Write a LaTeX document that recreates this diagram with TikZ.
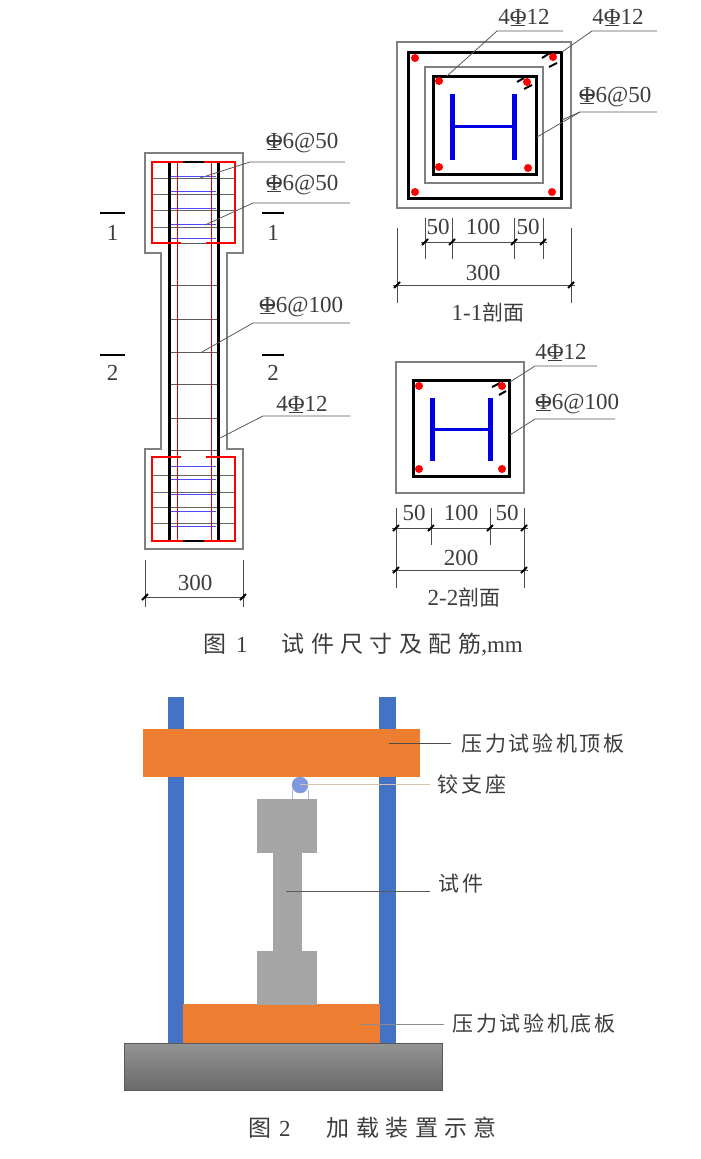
\documentclass[tikz,border=0pt]{standalone}
\usepackage{fontspec}
\setmainfont{Liberation Serif}
\newfontfamily\cjk{Noto Sans CJK SC}
\newfontfamily\cjklabel[LetterSpace=12]{Noto Sans CJK SC}
\newfontfamily\cjkcap[LetterSpace=28]{Noto Sans CJK SC}
\usepackage{tikz}
\usetikzlibrary{positioning}
\newcommand{\barmark}{{\ooalign{Φ\cr\hidewidth\rule[.3em]{.62em}{.05em}\hidewidth\cr\hidewidth\rule[-.06em]{.62em}{.05em}\hidewidth\cr}}}
\definecolor{colblue}{HTML}{4472C4}
\definecolor{plateor}{HTML}{ED7D31}
\definecolor{specgray}{HTML}{A5A5A5}
\definecolor{hingeblue}{HTML}{8098DC}
\definecolor{inktext}{HTML}{3C3C3C}
\tikzset{
  txt/.style={inner sep=0pt,text=inktext,font=\fontsize{23}{23}\selectfont},
  cjktxt/.style={inner sep=0pt,text=inktext,font=\fontsize{21}{21}\selectfont\cjk},
  labeltxt/.style={inner sep=0pt,text=inktext,font=\fontsize{21}{21}\selectfont\cjklabel},
  captxt/.style={inner sep=0pt,text=inktext,anchor=west,font=\fontsize{23}{23}\selectfont},
  leader/.style={draw=black!65,line width=.8pt},
  concrete/.style={draw=black!50,line width=1.1pt},
  dimline/.style={draw=black!70,line width=.8pt},
  tick/.style={draw=black,line width=2pt}
}
\begin{document}
\begin{tikzpicture}[x=1pt,y=-1pt]
  \useasboundingbox (0,0) rectangle (701,1159);
  % elevation
  \draw[concrete] (161,253)--(145,253)--(145,153)--(243,153)--(243,253)--(227,253)--(227,449)--(243,449)--(243,549)--(145,549)--(145,449)--(161,449)--cycle;
  \foreach \y in {178,194,210,227,475,492,507,523}
    \draw[black!60,line width=1pt] (153,\y)--(235,\y);
  \foreach \y in {243,285,319,352,384,418,450}
    \draw[black!65,line width=1pt] (169,\y)--(218,\y);
  \foreach \y in {176,191,208,224,238,466,479,494,511,526}
    \draw[blue!70,line width=1pt] (171,\y)--(216,\y);
  \foreach \x in {177,211}
    \draw[red!85!black,line width=.9pt] (\x,162)--(\x,541);
  \foreach \x in {169,218}
    \draw[black,line width=3pt] (\x,162)--(\x,541);
  \draw[red,line width=2pt] (183,162)--(152,162)--(152,243)--(181,243) (206,243)--(235,243)--(235,162)--(204,162);
  \draw[red,line width=2pt] (181,457)--(152,457)--(152,541)--(183,541) (204,541)--(235,541)--(235,457)--(206,457);
  \foreach \y in {162,541}
    \draw[black,line width=2pt] (183,\y)--(204,\y);
  % section marks
  \foreach \nm/\xa/\xb/\ybar/\ytxt/\txt in {ma/100/125/213/233/1, mb/262/284/213/233/1, mc/100/125/355/373/2, md/262/284/355/373/2} {
    \draw[black,line width=2pt] (\xa,\ybar)--(\xb,\ybar);
    \node[txt] (\nm) at ({(\xa+\xb)/2},\ytxt) {\txt};
  }
  % section 1-1
  \draw[concrete] (397,42) rectangle (571,208);
  \draw[concrete] (425,67) rectangle (543,183);
  \draw[black,line width=3pt] (408,52) rectangle (561,198);
  \draw[black,line width=3pt] (433,76) rectangle (536,174);
  \draw[blue!90!black,line width=5pt] (452,94)--(452,160) (514,94)--(514,160);
  \draw[blue!90!black,line width=3pt] (452,126)--(514,126);
  \foreach \x/\y in {415/58,553/57,415/192,552/192,439/81,527/82,439/167,528/168}
    \fill[red] (\x,\y) circle (4pt);
  \foreach \xa/\ya/\xb/\yb in {542/58/550/53,549/67/557/63,517/82/524/78,524/89/532/85,492/387/500/383,499/395/506/391}
    \draw[black,line width=2pt] (\xa,\ya)--(\xb,\yb);
  % section 2-2
  \draw[concrete] (396,362) rectangle (524,493);
  \draw[black,line width=3pt] (413,380) rectangle (509,476);
  \draw[blue!90!black,line width=5pt] (432,398)--(432,461) (490,398)--(490,461);
  \draw[blue!90!black,line width=3pt] (432,429)--(490,429);
  \foreach \x/\y in {419/386,502/386,419/469,502/469}
    \fill[red] (\x,\y) circle (4pt);
  % leaders and their labels
  \foreach \nm/\txt/\ax/\ay/\bx/\by/\ex/\tx/\ty in {
      la/\barmark 6@50/200/178/250/162/345/302/143,
      lb/\barmark 6@50/205/225/253/203/350/302/185,
      lc/\barmark 6@100/202/352/253/323/350/301/307,
      ld/4\barmark 12/220/438/263/416/350/302/405,
      le/4\barmark 12/447/76/497/31/563/524/18,
      lf/4\barmark 12/562/52/592/31/657/618/18,
      lg/\barmark 6@50/537/137/580/112/657/615/97,
      lh/4\barmark 12/510/382/535/366/597/561/353,
      li/\barmark 6@100/510/435/535/419/615/577/404} {
    \coordinate (\nm a) at (\ax,\ay);
    \coordinate (\nm b) at (\bx,\by);
    \coordinate (\nm c) at (\ex,\by);
    \draw[leader] (\nm a)--(\nm b)--(\nm c);
    \node[txt] (\nm t) at (\tx,\ty) {\txt};
  }
  \coordinate (lgd) at (562,120);
  \draw[leader] (lgd)--(lgb);
  % dimensions
  \foreach \x/\ya/\yb in {145/560/607,243/560/607,425/218/259,452/218/259,514/218/259,543/218/259,397/228/303,571/228/303,396/508/588,431/508/545,490/508/545,524/508/588}
    \draw[dimline] (\x,\ya)--(\x,\yb);
  \foreach \xa/\xb/\y in {143/245/597,421/547/242,393/575/285,392/528/528,392/528/570}
    \draw[dimline] (\xa,\y)--(\xb,\y);
  \foreach \x/\y in {145/597,243/597,425/242,452/242,514/242,543/242,397/285,571/285,396/528,431/528,490/528,524/528,396/570,524/570}
    \draw[tick] (\x-3,\y+3)--(\x+3,\y-3);
  \foreach \nm/\txt/\x/\y in {da/300/195/583,db/50/438/227,dc/100/483/227,dd/50/528/227,de/300/483/273,df/50/414/513,dg/100/461/513,dh/50/507/513,di/200/461/558}
    \node[txt] (\nm) at (\x,\y) {\txt};
  \node[txt] (sec1) at (488,312) {1-1{\fontsize{21}{21}\selectfont\cjk 剖面}};
  \node[txt] (sec2) at (464,597) {2-2{\fontsize{21}{21}\selectfont\cjk 剖面}};
  \node[captxt] (capa) at (203,645) {{\cjkcap 图}\hspace{10pt}1\hspace{34pt}{\cjkcap 试件尺寸及配筋},mm};
  % loading frame
  \draw[fill=colblue,colblue] (168,697) rectangle (183,1043);
  \draw[fill=colblue,colblue] (379,697) rectangle (395,1043);
  \draw[fill=plateor,plateor] (143,729) rectangle (419,776);
  \draw[fill=plateor,plateor] (183,1004) rectangle (379,1043);
  \draw[hingeblue!70,line width=1pt] (292,799)--(292,790) (308,799)--(308,790);
  \draw[fill=hingeblue,hingeblue] (300,785) circle (8pt);
  \draw[fill=specgray,specgray] (273,853) rectangle (301,951);
  \foreach \y in {799,951}
    \draw[fill=specgray,specgray] (257,\y) rectangle (316,\y+53);
  \draw[top color=black!42,bottom color=black!58,draw=black!65,line width=1pt] (124,1043) rectangle (442,1090);
  \foreach \nm/\txt/\ax/\ex/\y/\tx/\ty/\cl in {
      pa/压力试验机顶板/389/451/743/543/743/black!70,
      pb/铰支座/300/430/784/472/784/orange!40!black!30,
      pc/试件/286/430/891/461/884/black!65,
      pd/压力试验机底板/360/444/1024/534/1023/black!45} {
    \coordinate (\nm a) at (\ax,\y);
    \coordinate (\nm b) at (\ex,\y);
    \draw[leader,draw=\cl] (\nm a)--(\nm b);
    \node[labeltxt] (\nm t) at (\tx,\ty) {\txt};
  }
  \node[captxt] (capb) at (248,1128) {{\cjkcap 图}\hspace{8pt}2\hspace{36pt}{\cjkcap 加载装置示意}};
\end{tikzpicture}
\end{document}
